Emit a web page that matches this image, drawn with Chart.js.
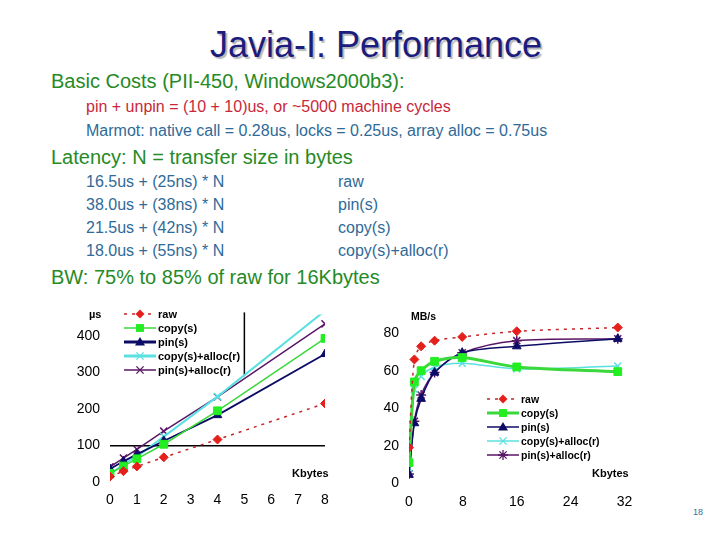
<!DOCTYPE html>
<html><head><meta charset="utf-8">
<script src="https://cdn.jsdelivr.net/npm/chart.js@4/dist/chart.umd.min.js"></script>
<style>
body{margin:0;width:720px;height:540px;background:#fff;position:relative;overflow:hidden;font-family:"Liberation Sans",Arial,sans-serif;}
.t{position:absolute;white-space:nowrap;line-height:1;}
.title{font-size:36px;color:#1c1c7e;text-shadow:2px 2px 1px #b8b8b8;}
.h{font-size:20px;color:#268a26;}
.red{font-size:16px;color:#c8283a;}
.blue{font-size:16px;color:#2f6a98;}
.lbl{font-size:11px;font-weight:bold;color:#000;}
.cw{position:absolute;}
.leg{position:absolute;}
.leg .row{height:14px;display:flex;align-items:center;font-weight:bold;color:#000;white-space:nowrap;}
.leg svg{display:block;margin-right:2px;}
</style></head><body>

<div class="t title" style="left:210px;top:27px;">Javia-I: Performance</div>
<div class="t h" style="left:51px;top:71px;">Basic Costs (PII-450, Windows2000b3):</div>
<div class="t red" style="left:86px;top:99px;">pin + unpin = (10 + 10)us, or ~5000 machine cycles</div>
<div class="t blue" style="left:86px;top:123px;">Marmot: native call = 0.28us, locks = 0.25us, array alloc = 0.75us</div>
<div class="t h" style="left:51px;top:147px;">Latency: N = transfer size in bytes</div>
<div class="t blue" style="left:86px;top:174px;">16.5us + (25ns) * N</div>
<div class="t blue" style="left:86px;top:197px;">38.0us + (38ns) * N</div>
<div class="t blue" style="left:86px;top:220px;">21.5us + (42ns) * N</div>
<div class="t blue" style="left:86px;top:243px;">18.0us + (55ns) * N</div>
<div class="t blue" style="left:338px;top:174px;">raw</div>
<div class="t blue" style="left:338px;top:197px;">pin(s)</div>
<div class="t blue" style="left:338px;top:220px;">copy(s)</div>
<div class="t blue" style="left:338px;top:243px;">copy(s)+alloc(r)</div>
<div class="t h" style="left:51px;top:267px;">BW: 75% to 85% of raw for 16Kbytes</div>

<div class="cw" style="left:60px;top:296px;width:285px;height:220px;"><canvas id="lat" width="285" height="220"></canvas></div>
<div class="cw" style="left:360px;top:296px;width:285px;height:220px;"><canvas id="bw" width="285" height="220"></canvas></div>

<div class="t lbl" style="left:89px;top:309px;">µs</div>
<div class="t lbl" style="left:292px;top:468px;">Kbytes</div>
<div class="t lbl" style="left:411px;top:311px;font-size:10.5px;">MB/s</div>
<div class="t lbl" style="left:592px;top:468px;">Kbytes</div>
<div id="legLat" class="leg" style="left:124px;top:307px;font-size:11px;"></div>
<div id="legBw" class="leg" style="left:487px;top:392px;font-size:10.5px;"></div>
<div class="t" style="left:693px;top:508px;font-size:9px;color:#3a6f8f;">18</div>

<script>
// ---- data ----
const seriesNames = ['raw', 'copy(s)', 'pin(s)', 'copy(s)+alloc(r)', 'pin(s)+alloc(r)'];

const latKbytes = [0, 0.5, 1, 2, 4, 8];
const latRaw = [14, 29, 42, 67, 116, 215];
const latCopy = [23, 43, 63, 103, 195, 394];
const latPin = [35, 56, 75, 112, 183, 351];
const latCopyAlloc = [20, 48, 69, 124, 234, 470];
const latPinAlloc = [41, 65, 89, 139, 233, 434];
const latTicksX = [0, 1, 2, 3, 4, 5, 6, 7, 8];
const latTicksY = [0, 100, 200, 300, 400];

const bwKbytes = [0, 0.8, 1.8, 3.8, 7.9, 16, 31];
const bwRaw = [19, 66, 73, 76, 78, 81, 83];
const bwCopy = [11, 54, 60, 65, 67, 62, 59.5];
const bwPin = [4.5, 32, 45, 59, 69.5, 73, 77];
const bwCopyAlloc = [8, 50, 57, 62, 64, 61, 62.5];
const bwPinAlloc = [5, 33, 47, 59, 69.5, 76, 77];
const bwTicksX = [0, 8, 16, 24, 32];
const bwTicksY = [0, 20, 40, 60, 80];

// odd black strokes in the left plot (x value, value where it stops; gridline value)
const latStubX = 5, latStubBottom = 290, latRuleY = 100;

// ---- styles ----
const C = {red:'#c4262a', redPt:'#e4201c', green:'#3ad83a', greenPt:'#22ee22', navy:'#0c0c66', cyan:'#5ae0e0', purple:'#5a1666'};
const FONT = {family:'"Liberation Sans", Arial, sans-serif', size:14};

function pts(xs, ys){ return xs.map((x,i)=>({x:x, y:ys[i]})); }

function makeSets(xs, arrs, widths, purpleStyle, tension){
  const base = [
    {color:C.red, pt:C.redPt, style:'rectRot', r:4.5, dash:[3,5]},
    {color:C.green, pt:C.greenPt, style:'rect', r:5.5, dash:[]},
    {color:C.navy, pt:C.navy, style:'triangle', r:5, dash:[]},
    {color:C.cyan, pt:C.cyan, style:'crossRot', r:5, dash:[]},
    {color:C.purple, pt:C.purple, style:purpleStyle, r:5, dash:[]}
  ];
  return arrs.map((a,i)=>({
    label: seriesNames[i],
    data: pts(xs, a),
    showLine: true,
    borderColor: base[i].color,
    backgroundColor: base[i].pt,
    borderWidth: widths[i],
    borderDash: base[i].dash,
    tension: tension,
    pointStyle: base[i].style,
    pointRadius: base[i].r,
    pointBorderColor: base[i].pt,
    pointBackgroundColor: base[i].pt,
    pointBorderWidth: (base[i].style==='crossRot'||base[i].style==='star') ? 1.5 : 1
  }));
}

function filterTicks(list){ return function(scale){ scale.ticks = scale.ticks.filter(t => list.includes(t.value)); }; }

const stubPlugin = {
  id:'stub',
  beforeDatasetsDraw(chart){
    const {ctx, scales:{x, y}, chartArea} = chart;
    ctx.save();
    ctx.strokeStyle = '#000'; ctx.lineWidth = 1.5;
    ctx.beginPath();
    const px = x.getPixelForValue(latStubX);
    ctx.moveTo(px, chartArea.top - 2);
    ctx.lineTo(px, y.getPixelForValue(latStubBottom));
    ctx.stroke();
    ctx.restore();
  }
};

function opts(xMax, xTicks, yMax, yTicks, yStep, xStep, xH, yW, padTop, padRight, gridFn){
  return {
    responsive:false, animation:false,
    layout:{padding:{top:padTop, right:padRight, left:0, bottom:0}, autoPadding:false},
    plugins:{legend:{display:false}, tooltip:{enabled:false}},
    scales:{
      x:{type:'linear', min:0, max:xMax,
         ticks:{stepSize:xStep, color:'#000', font:FONT, padding:10, maxRotation:0},
         afterBuildTicks: filterTicks(xTicks),
         afterFit(s){ s.height = xH; },
         grid:{display:false, drawTicks:false}, border:{display:false}},
      y:{type:'linear', min:0, max:yMax,
         ticks:{stepSize:yStep, color:'#000', font:FONT, padding:10},
         afterBuildTicks: filterTicks(yTicks),
         afterFit(s){ s.width = yW; },
         grid: gridFn ? {display:true, drawTicks:false, color:gridFn, lineWidth:1.5} : {display:false, drawTicks:false},
         border:{display:false}}
    }
  };
}

const latChart = new Chart(document.getElementById('lat'), {
  type:'scatter',
  data:{datasets: makeSets(latKbytes, [latRaw, latCopy, latPin, latCopyAlloc, latPinAlloc], [1.5, 1.5, 1.8, 2, 1.5], 'crossRot', 0)},
  options: opts(8, latTicksX, 460, latTicksY, 100, 1, 34.3, 50, 12.3, 20,
     c => (c.tick && c.tick.value === latRuleY) ? '#000' : 'rgba(0,0,0,0)'),
  plugins:[stubPlugin]
});

const bwChart = new Chart(document.getElementById('bw'), {
  type:'scatter',
  data:{datasets: makeSets(bwKbytes, [bwRaw, bwCopy, bwPin, bwCopyAlloc, bwPinAlloc], [1.5, 3, 1.5, 1.5, 1.5], 'star', 0.3)},
  options: opts(32, bwTicksX, 90, bwTicksY, 20, 8, 32.7, 49, 17.4, 20.5, null)
});

// ---- HTML legends built from the chart datasets ----
function markerSvg(ds, lineW){
  const w = 32, h = 12, cx = 16, cy = 6, r = ds.pointRadius;
  const dash = ds.borderDash.length ? ` stroke-dasharray="${ds.borderDash.join(',')}"` : '';
  let m = '';
  const f = ds.pointBackgroundColor;
  switch(ds.pointStyle){
    case 'rectRot': m = `<polygon points="${cx},${cy-r} ${cx+r},${cy} ${cx},${cy+r} ${cx-r},${cy}" fill="${f}"/>`; break;
    case 'rect': { const s = r*0.72; m = `<rect x="${cx-s}" y="${cy-s}" width="${2*s}" height="${2*s}" fill="${f}"/>`; break; }
    case 'triangle': m = `<polygon points="${cx},${cy-r} ${cx+r},${cy+r*0.7} ${cx-r},${cy+r*0.7}" fill="${f}"/>`; break;
    case 'crossRot': { const s = r*0.72; m = `<path d="M${cx-s},${cy-s}L${cx+s},${cy+s}M${cx-s},${cy+s}L${cx+s},${cy-s}" stroke="${f}" stroke-width="1.3"/>`; break; }
    case 'star': { const s = r*0.72; m = `<path d="M${cx-s},${cy-s}L${cx+s},${cy+s}M${cx-s},${cy+s}L${cx+s},${cy-s}M${cx},${cy-r}L${cx},${cy+r}M${cx-r},${cy}L${cx+r},${cy}" stroke="${f}" stroke-width="1.3"/>`; break; }
  }
  return `<svg width="${w}" height="${h}"><line x1="0" y1="${cy}" x2="${w}" y2="${cy}" stroke="${ds.borderColor}" stroke-width="${lineW}"${dash}/>${m}</svg>`;
}
function buildLegend(id, chart, widths){
  const el = document.getElementById(id);
  el.innerHTML = chart.data.datasets.map((ds,i)=>`<div class="row">${markerSvg(ds, widths[i])}<span>${ds.label}</span></div>`).join('');
}
buildLegend('legLat', latChart, [1.5, 1.5, 3, 3, 1.5]);
buildLegend('legBw', bwChart, [1.5, 3, 1.5, 1.5, 1.5]);
</script>
</body></html>
